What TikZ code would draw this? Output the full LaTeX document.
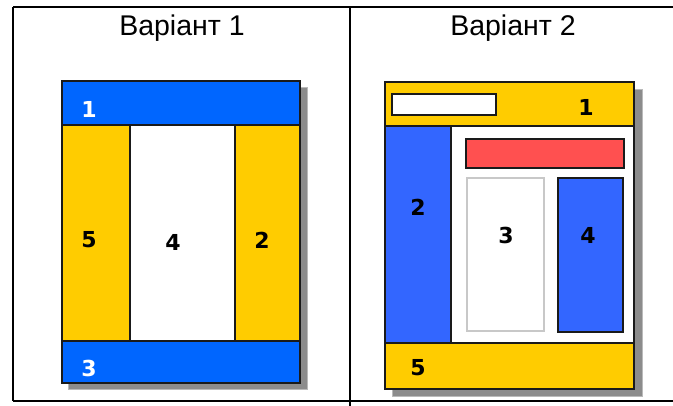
\documentclass[tikz,border=0pt]{standalone}
\usepackage{fontspec}
\setmainfont{Liberation Sans}
\newfontfamily\numfont{DejaVu Sans}
\definecolor{blueA}{HTML}{0066FF}
\definecolor{blueB}{HTML}{3366FF}
\definecolor{yel}{HTML}{FFCC00}
\definecolor{redB}{HTML}{FF5050}
\definecolor{shad}{HTML}{8C8C8C}
\definecolor{edge}{HTML}{1A1A1A}
\definecolor{lgray}{HTML}{C8C8C8}
\tikzset{
  grid/.style={line width=1.5pt, black},
  blk/.style={draw=edge, line width=1.4pt},
  shadowbox/.style={fill=shad, draw=shad!60, line width=1pt},
  num/.style={font=\numfont\bfseries\fontsize{22}{22}\selectfont, inner sep=0pt},
  title/.style={font=\fontsize{28.5}{28.5}\selectfont, inner sep=0pt}
}
\begin{document}
\begin{tikzpicture}[x=1pt,y=-1pt]
\useasboundingbox (0,0) rectangle (673,406);
% table lines
\draw[grid] (13,7) -- (673,7);
\draw[grid] (13,7) -- (13,401);
\draw[grid] (13,401) -- (673,401);
\draw[grid] (350,7) -- (350,406);
\node[title] (t1) at (182,28) {Варіант 1};
\node[title] (t2) at (513,28) {Варіант 2};
% ---------- Variant 1 ----------
\fill[shadowbox] (68,88) rectangle (307,390);
\fill[white] (62,81) rectangle (300,383);
\draw[blk, fill=blueA] (62,81) rectangle (300,125);
\draw[blk, fill=yel] (62,125) rectangle (130,341);
\draw[blk, fill=white] (130,125) rectangle (235,341);
\draw[blk, fill=yel] (235,125) rectangle (300,341);
\draw[blk, fill=blueA] (62,341) rectangle (300,383);
\node[num, white] (a1) at (89,109) {1};
\node[num] (a5) at (89,240) {5};
\node[num] (a4) at (173,242) {4};
\node[num] (a2) at (262,240) {2};
\node[num, white] (a3) at (89,368) {3};
% ---------- Variant 2 ----------
\fill[shadowbox] (392,90) rectangle (642,397);
\draw[blk, fill=white] (385,82) rectangle (634,389);
\draw[blk, fill=yel] (385,82) rectangle (634,126);
\draw[blk, fill=white] (392,94) rectangle (496,115);
\draw[blk, fill=blueB] (385,126) rectangle (451,343);
\draw[blk, fill=redB] (466,139) rectangle (624,168);
\draw[draw=lgray, line width=1.4pt, fill=white] (467,178) rectangle (544,331);
\draw[blk, fill=blueB] (558,178) rectangle (623,332);
\draw[blk, fill=yel] (385,343) rectangle (634,389);
\node[num] (b1) at (586,107) {1};
\node[num] (b2) at (418,207) {2};
\node[num] (b3) at (506,235) {3};
\node[num] (b4) at (588,235) {4};
\node[num] (b5) at (418,368) {5};
\end{tikzpicture}
\end{document}
